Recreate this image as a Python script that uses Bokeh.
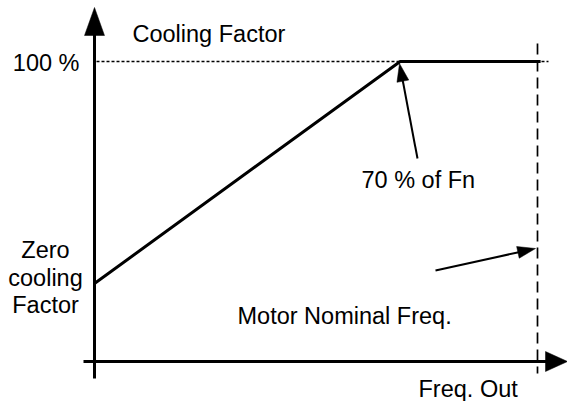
import math
from bokeh.plotting import figure
from bokeh.models import Range1d
from bokeh.core.properties import value
from bokeh.embed import file_html
from bokeh.resources import INLINE

# ---- diagram data (frequency in % of Fn, cooling factor in %) ----
curve_freq = [0, 69, 100.7]
curve_cool = [26, 100, 100]
nominal_freq = 100
full_cooling = 100

label_texts = ["Cooling Factor", "100 %", "70 % of Fn", "Zero", "cooling", "Factor",
               "Motor Nominal Freq.", "Freq. Out"]

# ---- page layout mapping ----
W, H = 567, 401
OX, OY = 94, 361      # origin in page pixels
SX, SY = 4.43, 3.0    # pixels per unit
TY = -8               # text baseline correction


def X(px):
    return (px - OX) / SX


def Y(py):
    return (OY - py) / SY


def TYP(py):
    return Y(py + TY)


FONT = value("Liberation Sans")
FS = "23.5px"

p = figure(width=W, height=H, x_range=Range1d(X(0), X(W)), y_range=Range1d(Y(H), Y(0)),
           output_backend="svg", toolbar_location=None, min_border=0)
p.axis.visible = False
p.grid.visible = False
p.outline_line_color = None
p.styles = {"margin": "0px"}


def arrow(tail, tip, length, width, lw):
    tx, ty = tip[0] * SX, tip[1] * SY
    bx, by = tail[0] * SX, tail[1] * SY
    n = math.hypot(tx - bx, ty - by)
    ux, uy = (tx - bx) / n, (ty - by) / n
    cx, cy = tx - ux * length, ty - uy * length
    nx, ny = -uy, ux
    xs = [tx, cx + nx * width / 2, cx - nx * width / 2]
    ys = [ty, cy + ny * width / 2, cy - ny * width / 2]
    p.line([tail[0], (cx + ux * 2) / SX], [tail[1], (cy + uy * 2) / SY],
           line_color="black", line_width=lw)
    p.patch([v / SX for v in xs], [v / SY for v in ys], fill_color="black", line_color="black",
            line_width=0.5)


# dotted 100 % reference line
p.line([X(96), X(548)], [full_cooling, full_cooling], line_color="black", line_width=1.5,
       line_dash="3 2")
# dashed nominal frequency line
p.line([nominal_freq, nominal_freq], [Y(43), Y(373)], line_color="black", line_width=1.7,
       line_dash="11 6")

# main curve
p.line(curve_freq, curve_cool, line_color="black", line_width=3)

# axes
arrow((0, Y(378)), (0, Y(7)), 28, 20, 3)
arrow((X(83), 0), (X(567), 0), 22, 20, 3)

# pointers
arrow((X(417), Y(158)), (X(399), Y(63)), 18, 12, 2)
arrow((X(435), Y(270)), (X(535), Y(248)), 18, 12, 2)

# labels
p.text(x=[X(132)], y=[TYP(41)], text=[label_texts[0]], text_font=FONT, text_font_size=FS,
       text_align="left", text_baseline="alphabetic", text_color="black")
p.text(x=[X(79)], y=[TYP(70)], text=[label_texts[1]], text_font=FONT, text_font_size=FS,
       text_align="right", text_baseline="alphabetic", text_color="black")
p.text(x=[X(361)], y=[TYP(187)], text=[label_texts[2]], text_font=FONT, text_font_size=FS,
       text_align="left", text_baseline="alphabetic", text_color="black")
p.text(x=[X(45)] * 3, y=[TYP(257), TYP(285), TYP(312)], text=label_texts[3:6], text_font=FONT,
       text_font_size=FS, text_align="center", text_baseline="alphabetic", text_color="black")
p.text(x=[X(237)], y=[TYP(323)], text=[label_texts[6]], text_font=FONT, text_font_size=FS,
       text_align="left", text_baseline="alphabetic", text_color="black")
p.text(x=[X(418)], y=[TYP(396)], text=[label_texts[7]], text_font=FONT, text_font_size=FS,
       text_align="left", text_baseline="alphabetic", text_color="black")

open("out.html", "w").write(file_html(p, INLINE))
